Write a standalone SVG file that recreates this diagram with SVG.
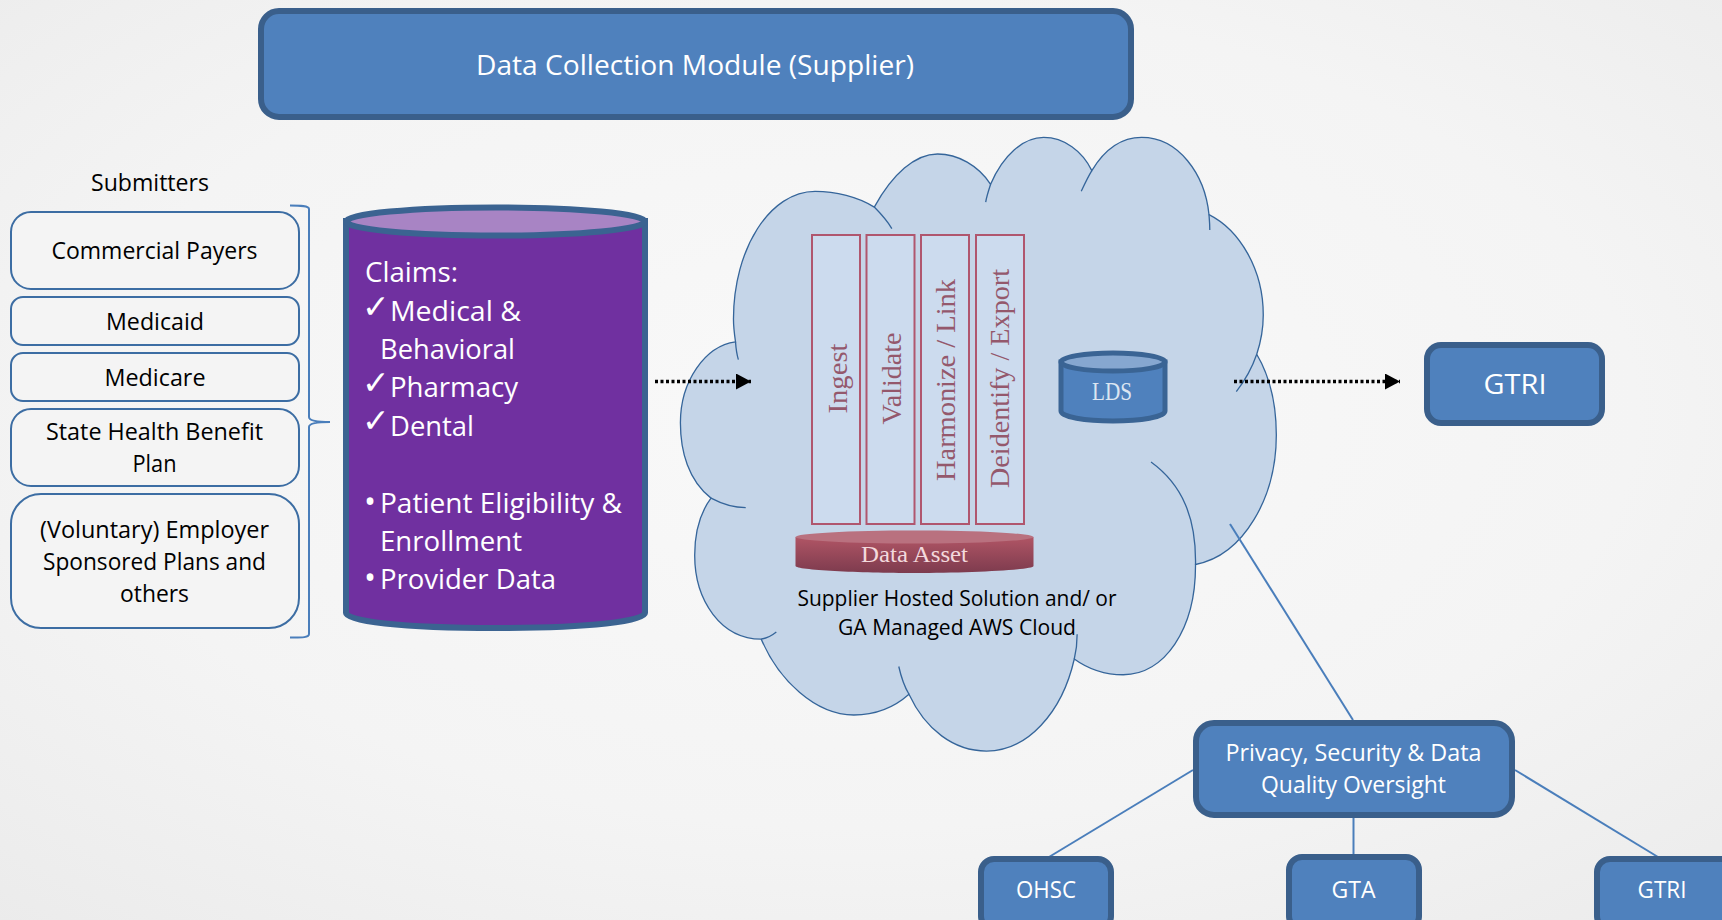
<svg xmlns="http://www.w3.org/2000/svg" width="1722" height="920" viewBox="0 0 1722 920">
<style>
text{font-family:"Open Sans","Noto Sans","Liberation Sans",sans-serif;text-anchor:middle}
.blue{fill:#4f81bd;stroke:#3a5f8b;stroke-width:6}
.sub{fill:#f4f4f4;stroke:#3c6da3;stroke-width:2}
.k{fill:#000;font-size:23px}
.w{fill:#fff;font-size:24px}
.c{fill:#fff;font-size:28px;text-anchor:start}
.chk{fill:#fff;font-family:"DejaVu Sans",sans-serif;font-size:33px;text-anchor:start}
.bar{fill:#ccdbee;stroke:#b0566e;stroke-width:2}
.s{font-family:"Liberation Serif","Times New Roman",serif;fill:#94586c;font-size:27px}
.line{fill:none;stroke:#4a7ebb;stroke-width:2}
.dot{fill:none;stroke:#000;stroke-width:3.500;stroke-dasharray:3 2.500;marker-end:url(#tri)}
.cloud{stroke:#35659a;stroke-width:3.200;fill:none}
</style>
<defs>
<radialGradient id="bg" cx="50%" cy="45%" r="75%"><stop offset="0" stop-color="#f9f9f9"/><stop offset="0.6" stop-color="#f4f4f4"/><stop offset="1" stop-color="#ebebeb"/></radialGradient>
<linearGradient id="red" x1="0" y1="0" x2="0" y2="1"><stop offset="0" stop-color="#b05565"/><stop offset="1" stop-color="#7d3b4e"/></linearGradient>
<marker id="tri" markerUnits="userSpaceOnUse" markerWidth="16" markerHeight="18" refX="15" refY="8" orient="auto"><path d="M0,0 L15,8 L0,16 Z" fill="#000"/></marker>
</defs>
<rect id="background" width="1722" height="920" fill="url(#bg)"/>

<g id="cloud" transform="matrix(0.40816 0 0 0.41463 660 120)">
<path d="M125,912 C70,870 50,800 50,730 C50,630 110,545 185,535 C182,515 180,497 180,480 C180,310 270,172 380,172 C430,172 485,185 525,210 C570,130 625,82 680,82 C730,82 780,110 810,155 C840,85 890,42 940,42 C990,42 1035,75 1058,122 C1090,70 1130,42 1180,42 C1270,42 1335,130 1345,228 C1420,265 1478,360 1478,470 C1478,505 1472,535 1462,565 C1495,620 1510,690 1510,760 C1510,910 1430,1050 1312,1072 C1313,1230 1235,1338 1135,1338 C1090,1338 1050,1325 1015,1300 C985,1430 900,1522 800,1522 C720,1522 650,1470 610,1385 C570,1420 520,1435 475,1435 C380,1435 290,1350 248,1252 C150,1252 85,1160 85,1050 C85,990 100,945 125,912 Z" fill="#c5d5e8" stroke="#35659a" stroke-width="3.200"/>
<path class="cloud" d="M125,912 C150,925 180,935 210,935 M185,535 C186,550 188,565 192,578 M525,210 C540,225 555,240 568,262 M810,155 C805,170 800,185 798,198 M1058,122 C1048,138 1040,155 1032,172 M1345,228 C1346,240 1347,250 1347,265 M1462,565 C1448,605 1432,630 1412,655 M1312,1072 C1314,960 1280,880 1203,825 M1015,1300 C1020,1280 1022,1260 1022,1240 M610,1385 C598,1365 590,1340 585,1318 M248,1252 C262,1250 275,1243 285,1235"/>
</g>

<g id="connectors">
<path class="line" d="M1230,524 L1353,720"/>
<path class="line" d="M1193,770 L1049,857"/>
<path class="line" d="M1353.500,817 L1353.500,855"/>
<path class="line" d="M1515,770 L1658,857"/>
<path class="dot" d="M655,381.500 L751,381.500"/>
<path class="dot" d="M1234,381.500 L1400,381.500"/>
<path d="M290,205.500 C300,205.500 309,205.500 309,209 L309,417 C309,421 318,422 330,422 C318,422 309,423 309,427 L309,634 C309,638 300,637.500 290,637.500" fill="none" stroke="#4a7ebb" stroke-width="2"/>
</g>

<g id="header"><rect class="blue" x="261" y="11" width="870" height="106" rx="18"/><text class="w" style="font-size:28px" x="695" y="75" textLength="438" lengthAdjust="spacingAndGlyphs">Data Collection Module (Supplier)</text></g>

<text id="submitters-label" class="k" x="150" y="191" textLength="118" lengthAdjust="spacingAndGlyphs">Submitters</text>

<g id="commercial"><rect class="sub" x="11" y="212" width="288" height="77" rx="20"/><text class="k" x="154.500" y="259" textLength="206" lengthAdjust="spacingAndGlyphs">Commercial Payers</text></g>
<g id="medicaid"><rect class="sub" x="11" y="297" width="288" height="48" rx="12"/><text class="k" x="155" y="330" textLength="98" lengthAdjust="spacingAndGlyphs">Medicaid</text></g>
<g id="medicare"><rect class="sub" x="11" y="353" width="288" height="48" rx="12"/><text class="k" x="155" y="386" textLength="101" lengthAdjust="spacingAndGlyphs">Medicare</text></g>
<g id="state"><rect class="sub" x="11" y="409" width="288" height="77" rx="20"/><text class="k" x="154.500" y="440" textLength="217" lengthAdjust="spacingAndGlyphs">State Health Benefit</text><text class="k" x="154.500" y="472" textLength="44" lengthAdjust="spacingAndGlyphs">Plan</text></g>
<g id="voluntary"><rect class="sub" x="11" y="494" width="288" height="134" rx="30"/><text class="k" x="154.500" y="538" textLength="229" lengthAdjust="spacingAndGlyphs">(Voluntary) Employer</text><text class="k" x="154.500" y="570" textLength="223" lengthAdjust="spacingAndGlyphs">Sponsored Plans and</text><text class="k" x="154.500" y="602" textLength="69" lengthAdjust="spacingAndGlyphs">others</text></g>

<g id="claims">
<path d="M346,221 L346,613 C346,621 400,628 495.500,628 C591,628 645,621 645,613 L645,221 Z" fill="#7030a0" stroke="#3b6391" stroke-width="6"/>
<ellipse cx="495.500" cy="221.500" rx="149.500" ry="14" fill="#a884c4" stroke="#3b6391" stroke-width="6"/>
<text class="c" x="365" y="282" textLength="93" lengthAdjust="spacingAndGlyphs">Claims:</text>
<text class="chk" x="362" y="318">✓</text><text class="c" x="390" y="321" textLength="131" lengthAdjust="spacingAndGlyphs">Medical &amp;</text>
<text class="c" x="380" y="359" textLength="135" lengthAdjust="spacingAndGlyphs">Behavioral</text>
<text class="chk" x="362" y="394">✓</text><text class="c" x="390" y="397" textLength="128" lengthAdjust="spacingAndGlyphs">Pharmacy</text>
<text class="chk" x="362" y="432">✓</text><text class="c" x="390" y="436" textLength="84" lengthAdjust="spacingAndGlyphs">Dental</text>
<text class="c" x="364" y="513" style="font-size:32px">•</text><text class="c" x="380" y="513" textLength="242" lengthAdjust="spacingAndGlyphs">Patient Eligibility &amp;</text>
<text class="c" x="380" y="551" textLength="142" lengthAdjust="spacingAndGlyphs">Enrollment</text>
<text class="c" x="364" y="589" style="font-size:32px">•</text><text class="c" x="380" y="589" textLength="176" lengthAdjust="spacingAndGlyphs">Provider Data</text>
</g>

<g id="ingest"><rect class="bar" x="812" y="235" width="48" height="289"/><text class="s" transform="translate(847 378.500) rotate(-90)" textLength="70" lengthAdjust="spacingAndGlyphs">Ingest</text></g>
<g id="validate"><rect class="bar" x="866.500" y="235" width="48" height="289"/><text class="s" transform="translate(901 378.500) rotate(-90)" textLength="92" lengthAdjust="spacingAndGlyphs">Validate</text></g>
<g id="harmonize"><rect class="bar" x="921" y="235" width="48" height="289"/><text class="s" transform="translate(955 380) rotate(-90)" textLength="202" lengthAdjust="spacingAndGlyphs">Harmonize / Link</text></g>
<g id="deidentify"><rect class="bar" x="976" y="235" width="48" height="289"/><text class="s" transform="translate(1009 378.500) rotate(-90)" textLength="219" lengthAdjust="spacingAndGlyphs">Deidentify / Export</text></g>

<g id="data-asset">
<path d="M795.500,537 L795.500,566 C795.500,570 860,573 914.500,573 C969,573 1033.500,570 1033.500,566 L1033.500,537 Z" fill="url(#red)"/>
<ellipse cx="914.500" cy="537" rx="119" ry="6.500" fill="#b9717f"/>
<text class="s" style="fill:#f3d9dd;font-size:23px" x="914.500" y="562" textLength="107" lengthAdjust="spacingAndGlyphs">Data Asset</text>
</g>

<text id="cloud-label-1" class="k" style="font-size:21px" x="957" y="606" textLength="319" lengthAdjust="spacingAndGlyphs">Supplier Hosted Solution and/ or</text>
<text id="cloud-label-2" class="k" style="font-size:21px" x="957" y="635" textLength="238" lengthAdjust="spacingAndGlyphs">GA Managed AWS Cloud</text>

<g id="lds">
<path d="M1061,362 L1061,411 C1061,417 1085,421 1113,421 C1141,421 1165,417 1165,411 L1165,362 Z" fill="#4f81bd" stroke="#3a6494" stroke-width="5"/>
<ellipse cx="1113" cy="362" rx="52" ry="9" fill="#86a7d0" stroke="#3a6494" stroke-width="5"/>
<text class="s" style="fill:#dce6f2;font-size:25px" x="1112" y="400" textLength="40" lengthAdjust="spacingAndGlyphs">LDS</text>
</g>

<g id="gtri-top"><rect class="blue" x="1427" y="345" width="175" height="78" rx="14"/><text class="w" style="font-size:27px" x="1515" y="394" textLength="63" lengthAdjust="spacingAndGlyphs">GTRI</text></g>
<g id="privacy"><rect class="blue" x="1196" y="723" width="316" height="92" rx="18"/><text class="w" x="1353.500" y="761" textLength="256" lengthAdjust="spacingAndGlyphs">Privacy, Security &amp; Data</text><text class="w" x="1353.500" y="793" textLength="185" lengthAdjust="spacingAndGlyphs">Quality Oversight</text></g>
<g id="ohsc"><rect class="blue" x="981" y="859" width="130" height="70" rx="13"/><text class="w" x="1046" y="898" textLength="60" lengthAdjust="spacingAndGlyphs">OHSC</text></g>
<g id="gta"><rect class="blue" x="1289" y="857" width="130" height="72" rx="13"/><text class="w" x="1353.500" y="898" textLength="44" lengthAdjust="spacingAndGlyphs">GTA</text></g>
<g id="gtri-bottom"><rect class="blue" x="1597" y="859" width="140" height="70" rx="13"/><text class="w" x="1662" y="898" textLength="49" lengthAdjust="spacingAndGlyphs">GTRI</text></g>
</svg>
